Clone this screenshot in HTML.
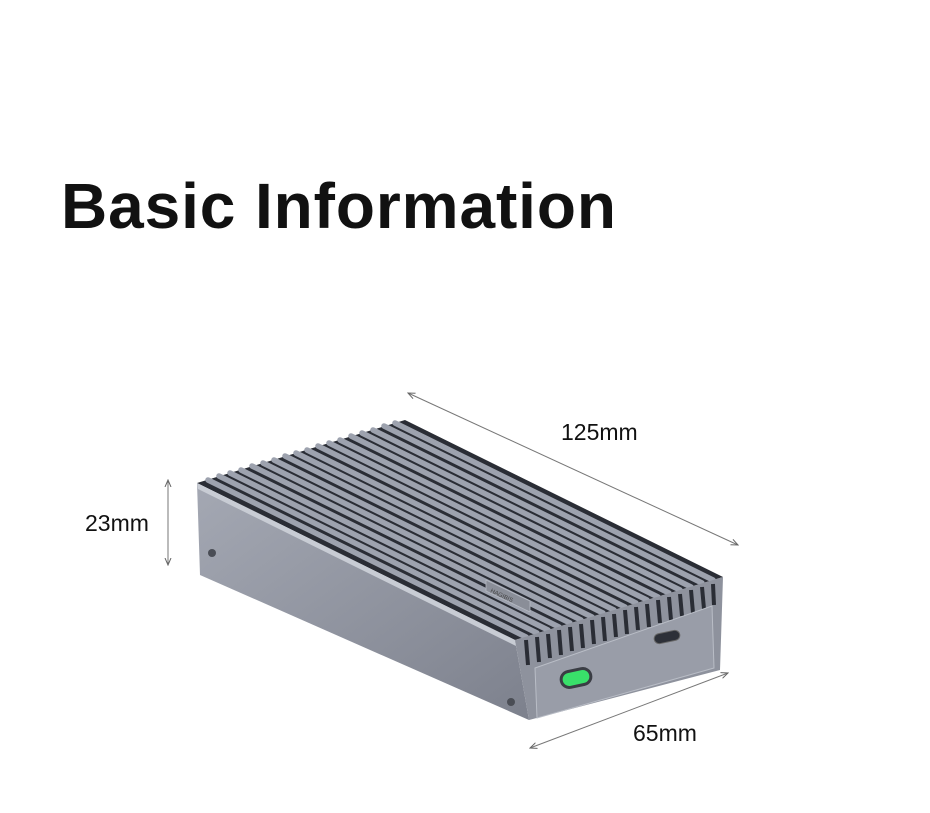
<!DOCTYPE html>
<html><head><style>
body{margin:0;background:#fff;width:930px;height:813px;overflow:hidden;font-family:"Liberation Sans",sans-serif}
.t{position:absolute;color:#111}
</style></head><body>
<div class="t" style="left:61px;top:169px;font-size:64px;font-weight:bold;letter-spacing:0.9px">Basic Information</div>
<div class="t" style="left:561px;top:419px;font-size:23px">125mm</div>
<div class="t" style="left:85px;top:510px;font-size:23px">23mm</div>
<div class="t" style="left:633px;top:720px;font-size:23px">65mm</div>
<svg width="930" height="813" style="position:absolute;left:0;top:0">
<defs>
<marker id="a" markerWidth="8" markerHeight="8" refX="7" refY="4" orient="auto-start-reverse"><path d="M0,1 L7,4 L0,7" fill="none" stroke="#666" stroke-width="1"/></marker>
<linearGradient id="side" x1="0" y1="0" x2="1" y2="1"><stop offset="0" stop-color="#a4a8b3"/><stop offset="1" stop-color="#7d818d"/></linearGradient>
</defs>
<line x1="408" y1="393" x2="738" y2="545" stroke="#777" stroke-width="1" marker-start="url(#a)" marker-end="url(#a)"/>
<line x1="530" y1="748" x2="728" y2="673" stroke="#777" stroke-width="1" marker-start="url(#a)" marker-end="url(#a)"/>
<line x1="168" y1="480" x2="168" y2="565" stroke="#777" stroke-width="1" marker-start="url(#a)" marker-end="url(#a)"/>
<polygon points="197,483 405,420 723,577 515,640" fill="#2a2d35"/>
<g stroke="#9da2ae" stroke-width="5.5" stroke-linecap="round">
<line x1="208" y1="480" x2="526" y2="637"/><line x1="219" y1="476" x2="537" y2="633"/>
<line x1="230" y1="473" x2="548" y2="630"/><line x1="241" y1="470" x2="559" y2="627"/>
<line x1="252" y1="466" x2="570" y2="623"/><line x1="263" y1="463" x2="581" y2="620"/>
<line x1="274" y1="460" x2="592" y2="617"/><line x1="285" y1="456" x2="603" y2="613"/>
<line x1="296" y1="453" x2="614" y2="610"/><line x1="307" y1="450" x2="625" y2="607"/>
<line x1="318" y1="446" x2="636" y2="603"/><line x1="329" y1="443" x2="647" y2="600"/>
<line x1="340" y1="440" x2="658" y2="597"/><line x1="351" y1="436" x2="669" y2="593"/>
<line x1="362" y1="433" x2="680" y2="590"/><line x1="373" y1="430" x2="691" y2="587"/>
<line x1="384" y1="426" x2="702" y2="583"/><line x1="395" y1="423" x2="713" y2="580"/>
</g>
<polygon points="197,483 515,640 529,720 200,575" fill="url(#side)"/>
<polygon points="197,483 515,640 516,646 198,489" fill="#c8ccd4"/>
<circle cx="212" cy="553" r="4" fill="#4a4d55"/>
<circle cx="511" cy="702" r="4" fill="#4a4d55"/>
<polygon points="486,580 530,601 530,612 486,591" fill="#8a8e98" stroke="#b5b9c2" stroke-width="0.8"/>
<text x="490" y="592" font-size="6" fill="#444" transform="rotate(25 490 592)">HAGIBIS</text>
<polygon points="515,640 723,577 720,670 529,720" fill="#8e929d"/>
<g stroke="#2a2d35" stroke-width="4">
<line x1="526" y1="640" x2="528" y2="665"/><line x1="537" y1="637" x2="539" y2="662"/>
<line x1="548" y1="634" x2="550" y2="658"/><line x1="559" y1="630" x2="561" y2="655"/>
<line x1="570" y1="627" x2="572" y2="651"/><line x1="581" y1="624" x2="583" y2="648"/>
<line x1="592" y1="620" x2="594" y2="644"/><line x1="603" y1="617" x2="605" y2="641"/>
<line x1="614" y1="614" x2="616" y2="637"/><line x1="625" y1="610" x2="627" y2="634"/>
<line x1="636" y1="607" x2="638" y2="630"/><line x1="647" y1="604" x2="649" y2="627"/>
<line x1="658" y1="600" x2="660" y2="623"/><line x1="669" y1="597" x2="671" y2="620"/>
<line x1="680" y1="594" x2="682" y2="616"/><line x1="691" y1="590" x2="693" y2="613"/>
<line x1="702" y1="587" x2="704" y2="609"/><line x1="713" y1="584" x2="714" y2="605"/>
</g>
<polygon points="535,668 712,606 714,668 537,718" fill="#999da8" stroke="#b9bdc6" stroke-width="1"/>
<rect x="561" y="670" width="30" height="16" rx="8" fill="#39e06a" stroke="#3a3d44" stroke-width="3" transform="rotate(-12 576 678)"/>
<rect x="654" y="632" width="26" height="10" rx="5" fill="#2d3038" stroke="#666" transform="rotate(-12 667 637)"/>
</svg>
</body></html>
